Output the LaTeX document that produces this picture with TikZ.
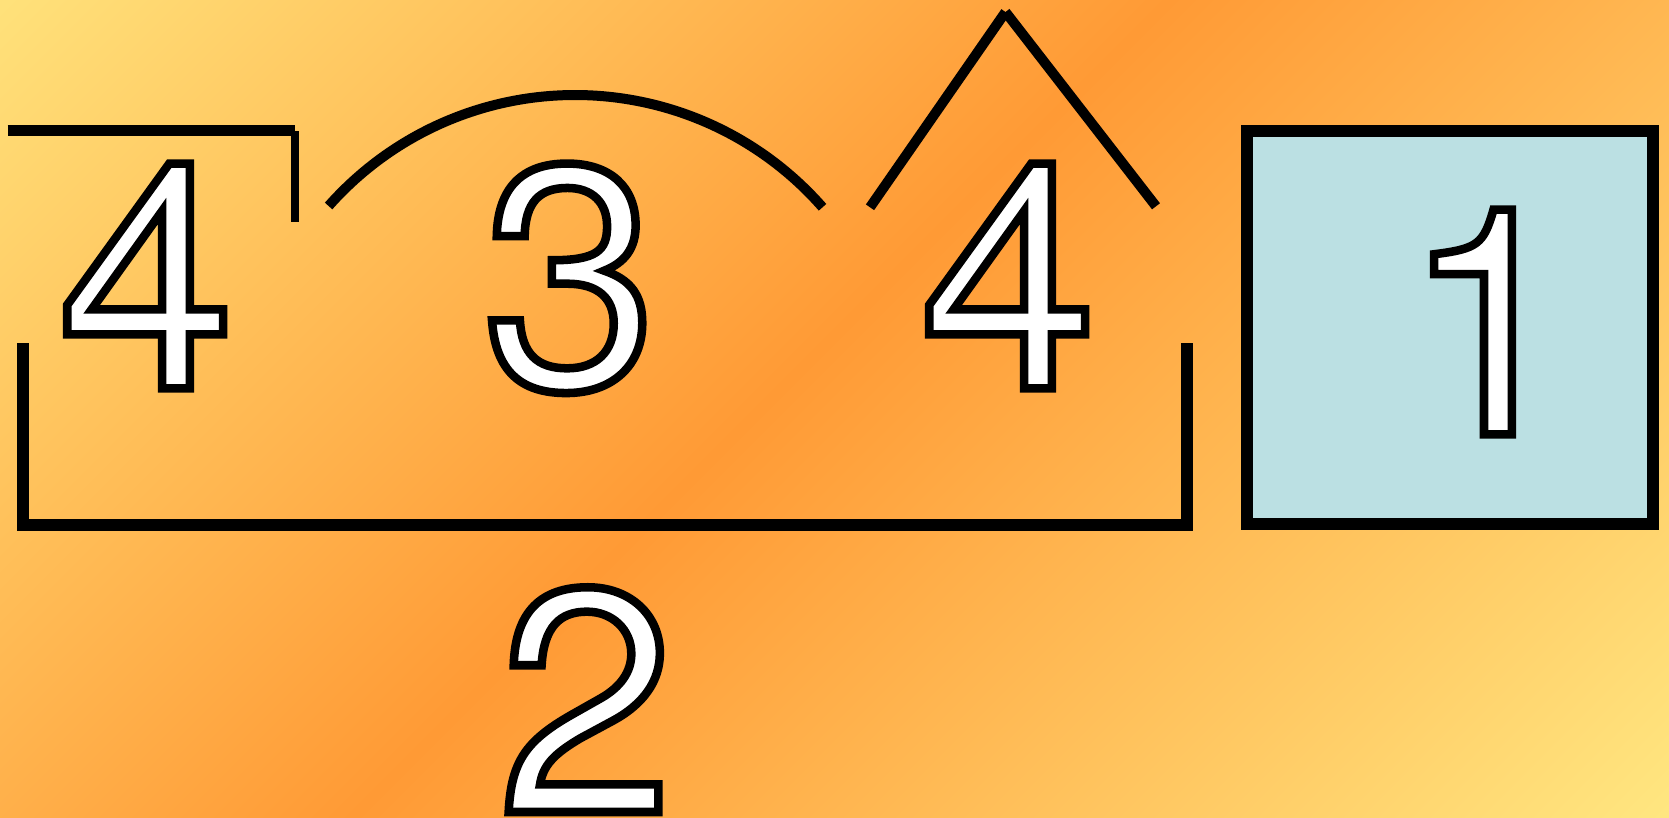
\documentclass[tikz,border=0pt]{standalone}
\usepackage{fontspec}
\newfontfamily\digitfont{TeX Gyre Heros}
\definecolor{sunlight}{HTML}{FFE17A}
\definecolor{amber}{HTML}{FF9A35}
\definecolor{cream}{HTML}{FFE680}
\definecolor{panelfill}{HTML}{BBE0E3}
% stops at 25bp and 75bp: pgf fits the middle half of a shading to the path
\pgfdeclarehorizontalshading{backdrop}{100bp}{color(0bp)=(sunlight);
  color(25bp)=(sunlight); color(48.5bp)=(amber); color(75bp)=(cream);
  color(100bp)=(cream)}
% white glyph with a black outline (fill, then stroke)
\newcommand\hollow[1]{\special{pdf:literal direct 0 0 0 RG 2 Tr 8.5 w}#1%
  \special{pdf:literal direct 0 Tr}}

\begin{document}
\begin{tikzpicture}[x=1pt,y=-1pt,
  digit/.style={font={\fontsize{317}{317}\digitfont},text=white,
    inner sep=0pt,anchor=base},
  rule/.style={draw=black,line width=#1},
  rule/.default=10pt,
  panel/.style={draw=black,fill=panelfill,line width=12pt,
    minimum width=406pt,minimum height=393pt,inner sep=0pt}]

% -------------------------------------------------------------------------
% Backdrop: diagonal yellow -- orange -- yellow.
% -------------------------------------------------------------------------
\useasboundingbox (0,0) rectangle (1669,818);
\begin{scope}
  \clip (0,0) rectangle (1669,818);
  \shade[shading=backdrop,shading angle=-45] (-44.8,-470.3) rectangle (1713.8,1288.3);
\end{scope}

% -------------------------------------------------------------------------
% Marks round the first row.
% -------------------------------------------------------------------------
\draw[rule=11pt] (7.5,131) -- (295,131);
\draw[rule=7.5pt] (295,131.5) -- (295,222);
\draw[rule] (575,424) ++(-138.5:329) arc[start angle=-138.5,end angle=-41.2,radius=329];
\coordinate (apex) at (1005.5,12);
\draw[rule] (870,207.3) -- (apex);
\draw[rule] (1156,206.3) -- (apex);
\draw[rule=12pt] (23,343) -- (23,525) -- (1186.5,525) -- (1186.5,343);

% -------------------------------------------------------------------------
% Box and digits.
% -------------------------------------------------------------------------
\node[panel] (box) at (1450,327.5) {};
\node[digit] (fourleft)  at (146.5,388.3) {\hollow{4}};
\node[digit] (three)     at (570,388.3)   {\hollow{3}};
\node[digit] (fourright) at (1008.5,388.3) {\hollow{4}};
\node[digit] (one)       at (1490,434.3)  {\hollow{1}};
\node[digit] (two)       at (586,812)     {\hollow{2}};
\end{tikzpicture}
\end{document}
